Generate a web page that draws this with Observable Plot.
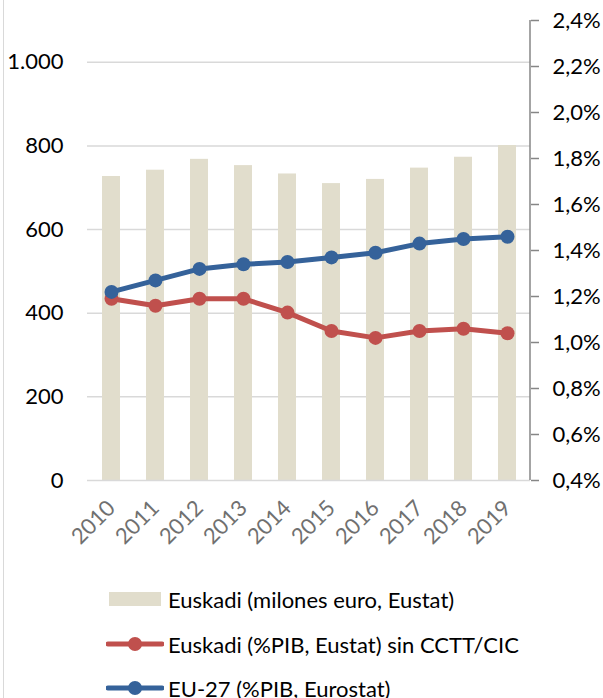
<!DOCTYPE html>
<html><head><meta charset="utf-8">
<script src="https://cdn.jsdelivr.net/npm/d3@7"></script>
<script src="https://cdn.jsdelivr.net/npm/@observablehq/plot@0.6"></script>
<style>
body{margin:0;background:#fff;font-family:Lato,sans-serif;}
#wrap{position:relative;width:603px;height:698px;overflow:hidden;}
#border{position:absolute;left:3px;top:0;width:1px;height:698px;background:#d9d9d9;}
#chart{position:absolute;left:0;top:0;}
#legend{position:absolute;left:0;top:570px;width:603px;height:128px;}
.item{position:absolute;left:106px;height:30px;display:flex;align-items:center;font-size:22px;color:#000;white-space:nowrap;}
.item svg{margin-right:4px;}
</style></head><body>
<div id="wrap"><div id="border"></div><div id="chart"></div><div id="legend"></div></div>
<script>
const years = ["2010","2011","2012","2013","2014","2015","2016","2017","2018","2019"];
const euskadiMillones = [727, 742, 768, 753, 733, 710, 720, 747, 773, 801];
const euskadiPctPIB = [1.19, 1.16, 1.19, 1.19, 1.13, 1.05, 1.02, 1.05, 1.06, 1.04];
const eu27PctPIB = [1.22, 1.27, 1.32, 1.34, 1.35, 1.37, 1.39, 1.43, 1.45, 1.46];
const leftTicks = [0, 200, 400, 600, 800, 1000];
const rightTicks = [0.4, 0.6, 0.8, 1.0, 1.2, 1.4, 1.6, 1.8, 2.0, 2.2, 2.4];
const seriesNames = ["Euskadi (milones euro, Eustat)", "Euskadi (%PIB, Eustat) sin CCTT/CIC", "EU-27 (%PIB, Eurostat)"];

const colBar = "#e1ddcc", colRed = "#c0504d", colBlue = "#35629a";
const leftMax = 1100, pctMin = 0.4, pctMax = 2.4;
const toLeft = p => (p - pctMin) * leftMax / (pctMax - pctMin);
const fromLeft = v => pctMin + v * (pctMax - pctMin) / leftMax;

const data = years.map((y, i) => ({year: y, mill: euskadiMillones[i], eus: euskadiPctPIB[i], eu: eu27PctPIB[i]}));
const fmtLeft = d3.formatLocale({decimal: ",", thousands: ".", grouping: [3], currency: ["", "€"]}).format(",d");
const fmtRight = v => fromLeft(v).toFixed(1).replace(".", ",") + "%";

const rightAxisLine = (index, scales, values, dims) => {
  const x = dims.width - dims.marginRight;
  return d3.create("svg:line")
    .attr("x1", x).attr("x2", x)
    .attr("y1", scales.y(leftMax)).attr("y2", scales.y(0))
    .attr("stroke", "#868686").attr("stroke-width", 1.5).node();
};

const chart = Plot.plot({
  width: 603, height: 570,
  marginTop: 20, marginBottom: 90, marginLeft: 87, marginRight: 73,
  style: {fontFamily: "Lato, sans-serif", background: "transparent"},
  x: {type: "band", domain: years, paddingInner: 0.6, paddingOuter: 0.3, label: null},
  y: {domain: [0, leftMax], label: null},
  marks: [
    Plot.ruleY(leftTicks.slice(1), {stroke: "#d9d9d9", strokeWidth: 1.5}),
    Plot.barY(data, {x: "year", y: "mill", fill: colBar}),
    Plot.ruleY([0], {stroke: "#d9d9d9", strokeWidth: 1.5}),
    Plot.line(data, {x: "year", y: d => toLeft(d.eus), stroke: colRed, strokeWidth: 5}),
    Plot.dot(data, {x: "year", y: d => toLeft(d.eus), fill: colRed, r: 7}),
    Plot.line(data, {x: "year", y: d => toLeft(d.eu), stroke: colBlue, strokeWidth: 5}),
    Plot.dot(data, {x: "year", y: d => toLeft(d.eu), fill: colBlue, r: 7}),
    Plot.axisY(leftTicks, {anchor: "left", label: null, tickSize: 0, tickPadding: 24, tickFormat: fmtLeft, fontSize: 22, fill: "#000"}),
    rightAxisLine,
    Plot.axisY(rightTicks.map(toLeft), {anchor: "right", label: null, tickSize: 8, tickPadding: 14, tickFormat: fmtRight, fontSize: 22, fill: "#000", stroke: "#868686", strokeWidth: 1.5}),
    Plot.axisX({label: null, tickRotate: -45, tickSize: 0, tickPadding: 24, fontSize: 22, fill: "#707070"})
  ]
});
document.getElementById("chart").appendChild(chart);

const legend = document.getElementById("legend");
const tops = [14, 59, 103];
seriesNames.forEach((name, i) => {
  const item = document.createElement("div");
  item.className = "item";
  item.style.top = tops[i] + "px";
  let sw;
  if (i === 0) {
    sw = `<svg width="58" height="30"><rect x="3" y="8" width="52" height="14" fill="${colBar}"/></svg>`;
  } else {
    const c = i === 1 ? colRed : colBlue;
    sw = `<svg width="58" height="30"><line x1="2" x2="56" y1="15" y2="15" stroke="${c}" stroke-width="5" stroke-linecap="round"/><circle cx="29" cy="15" r="7" fill="${c}"/></svg>`;
  }
  item.innerHTML = sw + `<span>${name}</span>`;
  legend.appendChild(item);
});
</script>
</body></html>
